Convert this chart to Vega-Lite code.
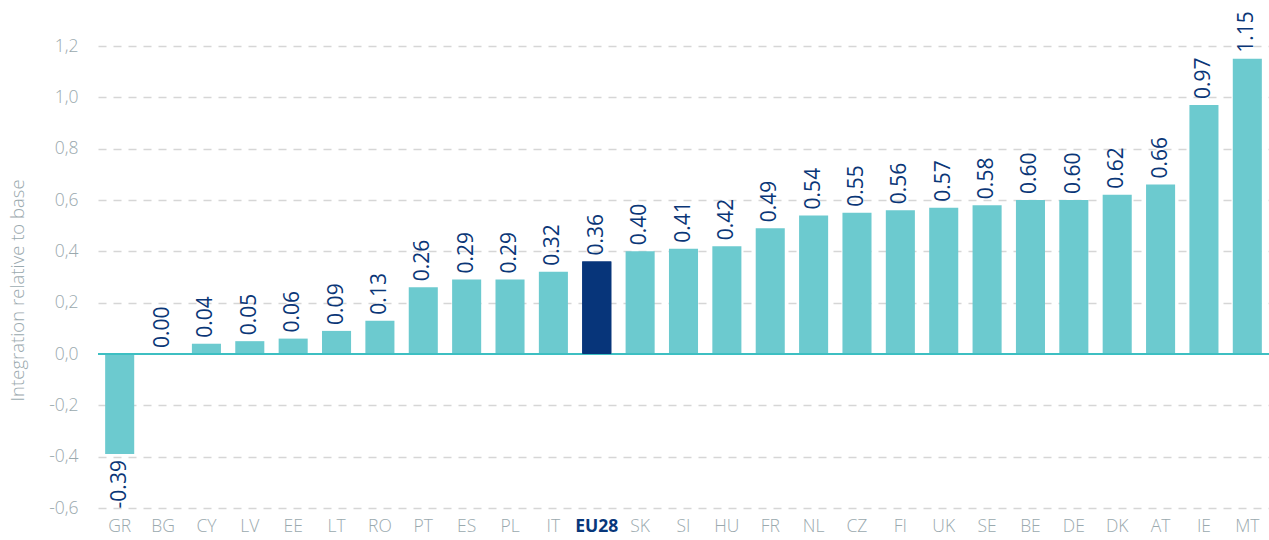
{
  "$schema": "https://vega.github.io/schema/vega-lite/v6.json",
  "autosize": "none",
  "padding": {"left": 98, "top": 46, "right": 0, "bottom": 32},
  "width": 1171,
  "height": 462,
  "background": "white",
  "config": {
    "view": {"stroke": null},
    "font": "Open Sans"
  },
  "data": {
    "values": [
      {"country": "GR", "value": -0.39},
      {"country": "BG", "value": 0.00},
      {"country": "CY", "value": 0.04},
      {"country": "LV", "value": 0.05},
      {"country": "EE", "value": 0.06},
      {"country": "LT", "value": 0.09},
      {"country": "RO", "value": 0.13},
      {"country": "PT", "value": 0.26},
      {"country": "ES", "value": 0.29},
      {"country": "PL", "value": 0.29},
      {"country": "IT", "value": 0.32},
      {"country": "EU28", "value": 0.36},
      {"country": "SK", "value": 0.40},
      {"country": "SI", "value": 0.41},
      {"country": "HU", "value": 0.42},
      {"country": "FR", "value": 0.49},
      {"country": "NL", "value": 0.54},
      {"country": "CZ", "value": 0.55},
      {"country": "FI", "value": 0.56},
      {"country": "UK", "value": 0.57},
      {"country": "SE", "value": 0.58},
      {"country": "BE", "value": 0.60},
      {"country": "DE", "value": 0.60},
      {"country": "DK", "value": 0.62},
      {"country": "AT", "value": 0.66},
      {"country": "IE", "value": 0.97},
      {"country": "MT", "value": 1.15}
    ]
  },
  "layer": [
    {
      "mark": {"type": "bar"},
      "encoding": {
        "x": {
          "field": "country",
          "type": "nominal",
          "sort": null,
          "scale": {"paddingInner": 0.33, "paddingOuter": 0.165},
          "axis": {
            "title": null,
            "domain": false,
            "ticks": false,
            "labelAngle": 0,
            "labelPadding": 9,
            "labelFontSize": 17.5,
            "labelFontWeight": {"condition": {"test": "datum.value === 'EU28'", "value": 700}, "value": 300},
            "labelColor": {"condition": {"test": "datum.value === 'EU28'", "value": "#08377a"}, "value": "#9aa9ae"},
            "labelFont": "Open Sans"
          }
        },
        "y": {
          "field": "value",
          "type": "quantitative",
          "scale": {"domain": [-0.6, 1.2], "nice": false, "zero": true},
          "axis": {
            "title": "Integration relative to base",
            "values": [-0.6, -0.4, -0.2, 0, 0.2, 0.4, 0.6, 0.8, 1.0, 1.2],
            "labelExpr": "replace(replace(format(datum.value, '.1f'), '.', ','), '\u2212', '-')",
            "domain": false,
            "ticks": false,
            "labelPadding": 20,
            "labelFontSize": 17.5,
            "labelFontWeight": 300,
            "labelColor": "#9aa9ae",
            "grid": true,
            "gridColor": "#d6d6d6",
            "gridDash": [8, 7],
            "gridWidth": 1.3,
            "gridOpacity": {"condition": {"test": "datum.value === 0", "value": 0}, "value": 1},
            "titleFontSize": 18.5,
            "titleFontWeight": 300,
            "titleColor": "#9aa9ae",
            "titleX": -81,
            "titleY": 244,
            "titleAngle": -90,
            "titleAlign": "center",
            "titleBaseline": "middle"
          }
        },
        "color": {
          "condition": {"test": "datum.country === 'EU28'", "value": "#07357a"},
          "value": "#6ccacf"
        }
      }
    },
    {
      "mark": {"type": "rule", "color": "#3dbfc2", "strokeWidth": 2},
      "encoding": {"y": {"datum": 0, "type": "quantitative"}}
    },
    {
      "transform": [{"filter": "datum.country === 'EU28'"}],
      "mark": {"type": "bar", "color": "#07357a"},
      "encoding": {
        "x": {"field": "country", "type": "nominal", "sort": null},
        "y": {"field": "value", "type": "quantitative"}
      }
    },
    {
      "transform": [{"filter": "datum.value >= 0"}],
      "mark": {"type": "text", "angle": 270, "align": "left", "baseline": "middle", "dx": 6, "fontSize": 21, "color": "#0a3677",
        "text": {"expr": "format(datum.value, '.2f')"}},
      "encoding": {
        "x": {"field": "country", "type": "nominal", "sort": null},
        "y": {"field": "value", "type": "quantitative"}
      }
    },
    {
      "transform": [{"filter": "datum.value < 0"}],
      "mark": {"type": "text", "angle": 270, "align": "right", "baseline": "middle", "dx": -6, "fontSize": 21, "color": "#0a3677",
        "text": {"expr": "replace(format(datum.value, '.2f'), '\u2212', '-')"}},
      "encoding": {
        "x": {"field": "country", "type": "nominal", "sort": null},
        "y": {"field": "value", "type": "quantitative"}
      }
    }
  ]
}
